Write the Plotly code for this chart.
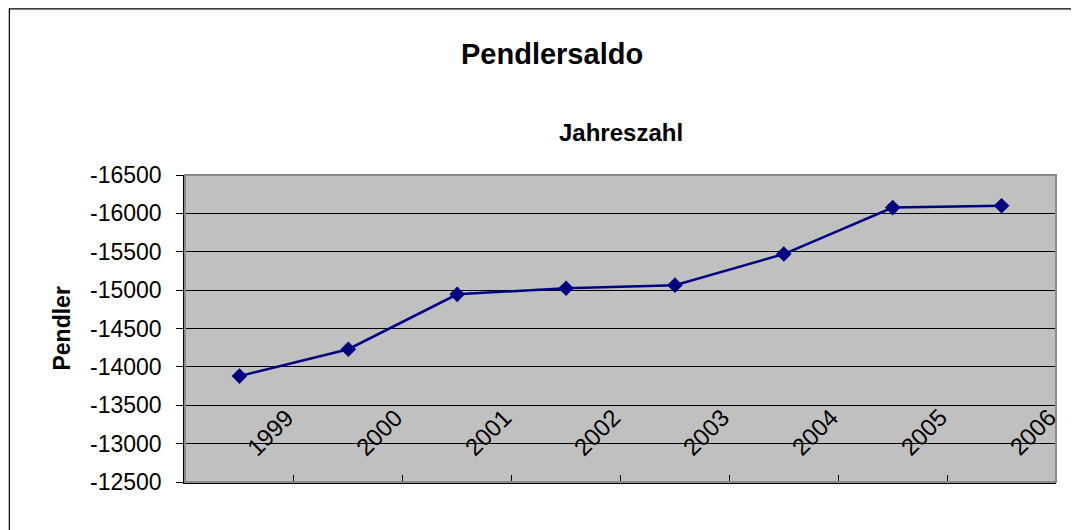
import plotly.graph_objects as go

years = ["1999", "2000", "2001", "2002", "2003", "2004", "2005", "2006"]
pendler = [-13880, -14230, -14945, -15025, -15065, -15470, -16075, -16100]
y_ticks = [-16500, -16000, -15500, -15000, -14500, -14000, -13500, -13000, -12500]
y_tick_labels = ["-16500", "-16000", "-15500", "-15000", "-14500", "-14000", "-13500", "-13000", "-12500"]

# page geometry (the HTML body has an 8px default margin)
OFF = 8
PAGE_W, PAGE_H = 1079, 530
PL, PR, PT, PB = 184.5, 1055.7, 175, 482  # plot area in page pixels
W, H = PAGE_W - OFF, PAGE_H - OFF
L, R, T, B = PL - OFF, PAGE_W - PR, PT - OFF, PAGE_H - PB
pw, ph = PR - PL, PB - PT
FONT = "Liberation Sans, Arial, sans-serif"


def px_x(px):
    return (px - PL) / pw


def px_y(py):
    return (PB - py) / ph


fig = go.Figure()
fig.add_trace(go.Scatter(
    x=years, y=pendler, mode="lines+markers",
    line=dict(color="#000080", width=2.5),
    marker=dict(symbol="diamond", size=12, color="#000080"),
    showlegend=False, hoverinfo="x+y",
))

# rotated category labels (inside plot area, as in the reference)
for i, yr in enumerate(years):
    fig.add_annotation(
        x=i + 0.28, y=-13150, xref="x", yref="y", text=yr, showarrow=False,
        textangle=-45, xanchor="center", yanchor="middle",
        font=dict(family=FONT, size=24, color="black"),
    )

fig.add_annotation(
    x=px_x(552), y=px_y(54), xref="paper", yref="paper", text="<b>Pendlersaldo</b>",
    showarrow=False, xanchor="center", yanchor="middle",
    font=dict(family=FONT, size=29, color="black"),
)
fig.add_annotation(
    x=0.5, y=px_y(133), xref="paper", yref="paper", text="<b>Jahreszahl</b>",
    showarrow=False, xanchor="center", yanchor="middle",
    font=dict(family=FONT, size=24, color="black"),
)
fig.add_annotation(
    x=px_x(60.5), y=0.5, xref="paper", yref="paper", text="<b>Pendler</b>",
    showarrow=False, xanchor="center", yanchor="middle", textangle=-90,
    font=dict(family=FONT, size=23, color="black"),
)

# outer chart border (extends past right/bottom edges) and plot-area border
fig.add_shape(type="rect", xref="paper", yref="paper",
              x0=px_x(OFF + 0.8), x1=px_x(1100), y0=px_y(560), y1=px_y(OFF + 0.8),
              line=dict(color="black", width=1.2), layer="below")
fig.add_shape(type="rect", xref="paper", yref="paper",
              x0=0, x1=1, y0=0, y1=1,
              line=dict(color="#8a8a8a", width=2), layer="above")

fig.update_layout(
    width=W, height=H,
    margin=dict(l=L, r=R, t=T, b=B, pad=0),
    paper_bgcolor="white", plot_bgcolor="#C0C0C0",
    font=dict(family=FONT, color="black"),
    xaxis=dict(
        type="category", range=[-0.5, 7.5], showticklabels=False,
        showgrid=False, zeroline=False, tickson="boundaries",
        ticks="inside", ticklen=7, tickcolor="black", tickwidth=1,
        showline=True, linecolor="black", linewidth=2,
    ),
    yaxis=dict(
        range=[-12500, -16500], tickvals=y_ticks, ticktext=y_tick_labels,
        showgrid=True, gridcolor="black", gridwidth=1, zeroline=False,
        ticks="outside", ticklen=7, tickcolor="black",
        showline=True, linecolor="black", linewidth=1.5,
        tickfont=dict(family=FONT, size=23, color="black"),
        ticklabelstandoff=10,
    ),
)

fig.write_html("out.html")
